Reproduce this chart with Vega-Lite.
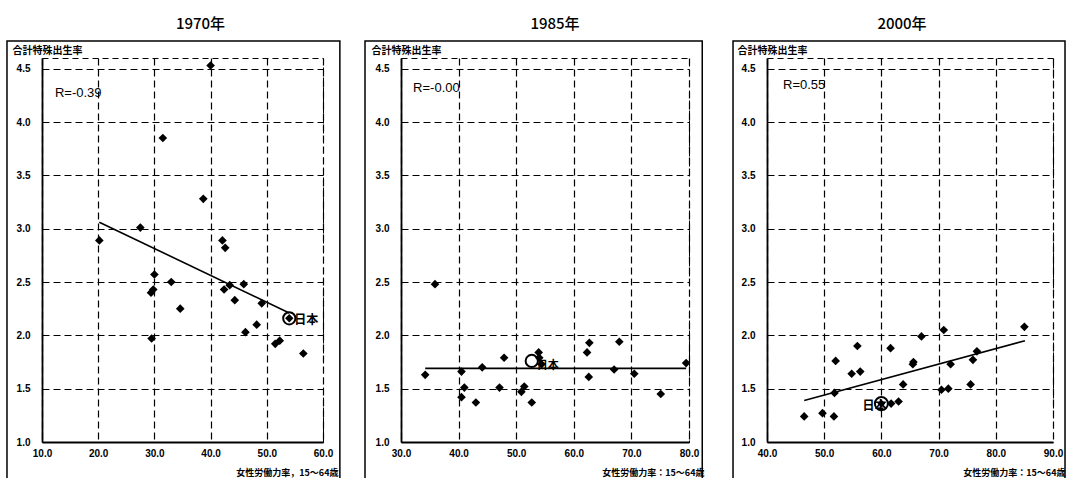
{
  "$schema": "https://vega.github.io/schema/vega-lite/v6.json",
  "padding": {"left": 5, "top": 16, "right": 0, "bottom": 0},
  "bounds": "flush",
  "spacing": 78,
  "datasets": {
    "d": [
      {"year": 1970, "kind": "country", "x": 40.0, "y": 4.53},
      {"year": 1970, "kind": "country", "x": 31.5, "y": 3.85},
      {"year": 1970, "kind": "country", "x": 38.7, "y": 3.28},
      {"year": 1970, "kind": "country", "x": 27.5, "y": 3.01},
      {"year": 1970, "kind": "country", "x": 20.2, "y": 2.89},
      {"year": 1970, "kind": "country", "x": 42.1, "y": 2.89},
      {"year": 1970, "kind": "country", "x": 42.6, "y": 2.82},
      {"year": 1970, "kind": "country", "x": 30.0, "y": 2.57},
      {"year": 1970, "kind": "country", "x": 29.8, "y": 2.43},
      {"year": 1970, "kind": "country", "x": 29.4, "y": 2.40},
      {"year": 1970, "kind": "country", "x": 33.0, "y": 2.50},
      {"year": 1970, "kind": "country", "x": 34.6, "y": 2.25},
      {"year": 1970, "kind": "country", "x": 29.5, "y": 1.97},
      {"year": 1970, "kind": "country", "x": 42.4, "y": 2.43},
      {"year": 1970, "kind": "country", "x": 43.4, "y": 2.47},
      {"year": 1970, "kind": "country", "x": 45.9, "y": 2.48},
      {"year": 1970, "kind": "country", "x": 44.3, "y": 2.33},
      {"year": 1970, "kind": "country", "x": 49.1, "y": 2.30},
      {"year": 1970, "kind": "country", "x": 46.2, "y": 2.03},
      {"year": 1970, "kind": "country", "x": 48.2, "y": 2.10},
      {"year": 1970, "kind": "country", "x": 51.5, "y": 1.92},
      {"year": 1970, "kind": "country", "x": 52.3, "y": 1.95},
      {"year": 1970, "kind": "country", "x": 56.5, "y": 1.83},
      {"year": 1970, "kind": "japan", "x": 54.0, "y": 2.16, "label": "日本"},
      {"year": 1970, "kind": "fit", "x": 20.2, "y": 3.06},
      {"year": 1970, "kind": "fit", "x": 54.0, "y": 2.21},
      {"year": 1970, "kind": "r", "x": 12.3, "y": 4.27, "label": "R=-0.39"},

      {"year": 1985, "kind": "country", "x": 35.9, "y": 2.48},
      {"year": 1985, "kind": "country", "x": 34.2, "y": 1.63},
      {"year": 1985, "kind": "country", "x": 40.5, "y": 1.66},
      {"year": 1985, "kind": "country", "x": 44.1, "y": 1.70},
      {"year": 1985, "kind": "country", "x": 41.0, "y": 1.51},
      {"year": 1985, "kind": "country", "x": 40.5, "y": 1.42},
      {"year": 1985, "kind": "country", "x": 43.0, "y": 1.37},
      {"year": 1985, "kind": "country", "x": 47.9, "y": 1.79},
      {"year": 1985, "kind": "country", "x": 47.1, "y": 1.51},
      {"year": 1985, "kind": "country", "x": 50.9, "y": 1.47},
      {"year": 1985, "kind": "country", "x": 51.4, "y": 1.52},
      {"year": 1985, "kind": "country", "x": 52.7, "y": 1.37},
      {"year": 1985, "kind": "country", "x": 53.9, "y": 1.84},
      {"year": 1985, "kind": "country", "x": 54.0, "y": 1.79},
      {"year": 1985, "kind": "country", "x": 54.4, "y": 1.73},
      {"year": 1985, "kind": "country", "x": 62.3, "y": 1.84},
      {"year": 1985, "kind": "country", "x": 62.7, "y": 1.93},
      {"year": 1985, "kind": "country", "x": 62.6, "y": 1.61},
      {"year": 1985, "kind": "country", "x": 67.0, "y": 1.68},
      {"year": 1985, "kind": "country", "x": 67.9, "y": 1.94},
      {"year": 1985, "kind": "country", "x": 70.5, "y": 1.64},
      {"year": 1985, "kind": "country", "x": 75.1, "y": 1.45},
      {"year": 1985, "kind": "country", "x": 79.5, "y": 1.74},
      {"year": 1985, "kind": "japan", "x": 52.7, "y": 1.76, "label": "日本"},
      {"year": 1985, "kind": "fit", "x": 34.2, "y": 1.69},
      {"year": 1985, "kind": "fit", "x": 79.5, "y": 1.69},
      {"year": 1985, "kind": "r", "x": 32.1, "y": 4.32, "label": "R=-0.00"},

      {"year": 2000, "kind": "country", "x": 46.5, "y": 1.24},
      {"year": 2000, "kind": "country", "x": 49.7, "y": 1.27},
      {"year": 2000, "kind": "country", "x": 51.7, "y": 1.24},
      {"year": 2000, "kind": "country", "x": 51.8, "y": 1.46},
      {"year": 2000, "kind": "country", "x": 52.0, "y": 1.76},
      {"year": 2000, "kind": "country", "x": 54.8, "y": 1.64},
      {"year": 2000, "kind": "country", "x": 55.8, "y": 1.90},
      {"year": 2000, "kind": "country", "x": 56.3, "y": 1.66},
      {"year": 2000, "kind": "country", "x": 61.6, "y": 1.88},
      {"year": 2000, "kind": "country", "x": 61.7, "y": 1.36},
      {"year": 2000, "kind": "country", "x": 63.0, "y": 1.38},
      {"year": 2000, "kind": "country", "x": 63.8, "y": 1.54},
      {"year": 2000, "kind": "country", "x": 65.5, "y": 1.73},
      {"year": 2000, "kind": "country", "x": 65.6, "y": 1.75},
      {"year": 2000, "kind": "country", "x": 67.0, "y": 1.99},
      {"year": 2000, "kind": "country", "x": 70.5, "y": 1.49},
      {"year": 2000, "kind": "country", "x": 70.9, "y": 2.05},
      {"year": 2000, "kind": "country", "x": 71.7, "y": 1.50},
      {"year": 2000, "kind": "country", "x": 72.1, "y": 1.73},
      {"year": 2000, "kind": "country", "x": 75.6, "y": 1.54},
      {"year": 2000, "kind": "country", "x": 76.0, "y": 1.77},
      {"year": 2000, "kind": "country", "x": 76.7, "y": 1.85},
      {"year": 2000, "kind": "country", "x": 85.0, "y": 2.08},
      {"year": 2000, "kind": "japan", "x": 60.0, "y": 1.36, "label": "日本"},
      {"year": 2000, "kind": "fit", "x": 46.5, "y": 1.39},
      {"year": 2000, "kind": "fit", "x": 85.1, "y": 1.95},
      {"year": 2000, "kind": "r", "x": 42.8, "y": 4.35, "label": "R=0.55"}
    ]
  },
  "hconcat": [
    {
      "width": 281,
      "height": 384,
      "title": {"text": "1970年", "dx": 18},
      "layer": [
        {
          "data": {"values": [{"f": 1}]},
          "mark": {"type": "rect", "filled": false, "stroke": "black", "strokeWidth": 1.5},
          "encoding": {
            "x": {"datum": 3.77, "type": "quantitative"},
            "x2": {"datum": 63.0},
            "y": {"datum": 4.76, "type": "quantitative"},
            "y2": {"datum": 0.5}
          }
        },
        {
          "data": {"name": "d"},
          "transform": [{"filter": "datum.year == 1970 && datum.kind == 'country'"}],
          "mark": {"type": "point", "shape": "diamond", "filled": true, "color": "black", "size": 75, "opacity": 1},
          "encoding": {
            "x": {"field": "x", "type": "quantitative", "scale": {"domain": [10, 60], "nice": false, "zero": false},
              "axis": {"values": [10, 20, 30, 40, 50, 60], "format": ".1f", "labelPadding": 6, "labelFlush": false,
                "title": "女性労働力率，15～64歳", "titleAlign": "right", "titleBaseline": "middle", "titleX": 296, "titleY": 30, "titleFontSize": 9}},
            "y": {"field": "y", "type": "quantitative", "scale": {"domain": [1, 4.6], "nice": false, "zero": false},
              "axis": {"values": [1, 1.5, 2, 2.5, 3, 3.5, 4, 4.5], "format": ".1f", "labelPadding": 12,
                "title": "合計特殊出生率", "titleAngle": 0, "titleAlign": "left", "titleBaseline": "alphabetic", "titleX": -30, "titleY": -5}}
          }
        },
        {
          "data": {"name": "d"},
          "transform": [{"filter": "datum.year == 1970 && datum.kind == 'fit'"}],
          "mark": {"type": "line", "color": "black", "strokeWidth": 1.6},
          "encoding": {"x": {"field": "x", "type": "quantitative"}, "y": {"field": "y", "type": "quantitative"}}
        },
        {
          "data": {"name": "d"},
          "transform": [{"filter": "datum.year == 1970 && datum.kind == 'japan'"}],
          "layer": [
            {"mark": {"type": "point", "shape": "diamond", "filled": true, "color": "black", "size": 70, "opacity": 1}},
            {"mark": {"type": "point", "shape": "circle", "filled": false, "stroke": "black", "strokeWidth": 2, "size": 150, "opacity": 1}},
            {"mark": {"type": "text", "align": "left", "baseline": "middle", "dx": 5, "dy": 2, "font": "Noto Sans CJK JP", "fontWeight": "bold", "fontSize": 12, "color": "#000000"},
              "encoding": {"text": {"field": "label"}}}
          ],
          "encoding": {"x": {"field": "x", "type": "quantitative"}, "y": {"field": "y", "type": "quantitative"}}
        },
        {
          "data": {"name": "d"},
          "transform": [{"filter": "datum.year == 1970 && datum.kind == 'r'"}],
          "mark": {"type": "text", "align": "left", "baseline": "middle", "font": "Liberation Sans", "fontSize": 13, "color": "black"},
          "encoding": {"x": {"field": "x", "type": "quantitative"}, "y": {"field": "y", "type": "quantitative"}, "text": {"field": "label"}}
        }
      ]
    },
    {
      "width": 288,
      "height": 384,
      "title": {"text": "1985年", "dx": 10},
      "layer": [
        {
          "data": {"values": [{"f": 1}]},
          "mark": {"type": "rect", "filled": false, "stroke": "black", "strokeWidth": 1.5},
          "encoding": {
            "x": {"datum": 23.75, "type": "quantitative"},
            "x2": {"datum": 82.3},
            "y": {"datum": 4.76, "type": "quantitative"},
            "y2": {"datum": 0.5}
          }
        },
        {
          "data": {"name": "d"},
          "transform": [{"filter": "datum.year == 1985 && datum.kind == 'country'"}],
          "mark": {"type": "point", "shape": "diamond", "filled": true, "color": "black", "size": 75, "opacity": 1},
          "encoding": {
            "x": {"field": "x", "type": "quantitative", "scale": {"domain": [30, 80], "nice": false, "zero": false},
              "axis": {"values": [30, 40, 50, 60, 70, 80], "format": ".1f", "labelPadding": 6, "labelFlush": false,
                "title": "女性労働力率：15～64歳", "titleAlign": "right", "titleBaseline": "middle", "titleX": 303, "titleY": 30, "titleFontSize": 9}},
            "y": {"field": "y", "type": "quantitative", "scale": {"domain": [1, 4.6], "nice": false, "zero": false},
              "axis": {"values": [1, 1.5, 2, 2.5, 3, 3.5, 4, 4.5], "format": ".1f", "labelPadding": 12,
                "title": "合計特殊出生率", "titleAngle": 0, "titleAlign": "left", "titleBaseline": "alphabetic", "titleX": -30, "titleY": -5}}
          }
        },
        {
          "data": {"name": "d"},
          "transform": [{"filter": "datum.year == 1985 && datum.kind == 'fit'"}],
          "mark": {"type": "line", "color": "black", "strokeWidth": 1.6},
          "encoding": {"x": {"field": "x", "type": "quantitative"}, "y": {"field": "y", "type": "quantitative"}}
        },
        {
          "data": {"name": "d"},
          "transform": [{"filter": "datum.year == 1985 && datum.kind == 'japan'"}],
          "layer": [
            {"mark": {"type": "point", "shape": "circle", "filled": false, "stroke": "black", "strokeWidth": 2, "size": 150, "opacity": 1}},
            {"mark": {"type": "text", "align": "left", "baseline": "middle", "dx": 5, "dy": 5, "font": "Noto Sans CJK JP", "fontWeight": "bold", "fontSize": 11, "color": "#000000"},
              "encoding": {"text": {"field": "label"}}}
          ],
          "encoding": {"x": {"field": "x", "type": "quantitative"}, "y": {"field": "y", "type": "quantitative"}}
        },
        {
          "data": {"name": "d"},
          "transform": [{"filter": "datum.year == 1985 && datum.kind == 'r'"}],
          "mark": {"type": "text", "align": "left", "baseline": "middle", "font": "Liberation Sans", "fontSize": 13, "color": "black"},
          "encoding": {"x": {"field": "x", "type": "quantitative"}, "y": {"field": "y", "type": "quantitative"}, "text": {"field": "label"}}
        }
      ]
    },
    {
      "width": 286,
      "height": 384,
      "title": {"text": "2000年", "dx": -8},
      "layer": [
        {
          "data": {"values": [{"f": 1}]},
          "mark": {"type": "rect", "filled": false, "stroke": "black", "strokeWidth": 1.5},
          "encoding": {
            "x": {"datum": 34.06, "type": "quantitative"},
            "x2": {"datum": 92.1},
            "y": {"datum": 4.76, "type": "quantitative"},
            "y2": {"datum": 0.5}
          }
        },
        {
          "data": {"name": "d"},
          "transform": [{"filter": "datum.year == 2000 && datum.kind == 'country'"}],
          "mark": {"type": "point", "shape": "diamond", "filled": true, "color": "black", "size": 75, "opacity": 1},
          "encoding": {
            "x": {"field": "x", "type": "quantitative", "scale": {"domain": [40, 90], "nice": false, "zero": false},
              "axis": {"values": [40, 50, 60, 70, 80, 90], "format": ".1f", "labelPadding": 6, "labelFlush": false,
                "title": "女性労働力率：15～64歳", "titleAlign": "right", "titleBaseline": "middle", "titleX": 298, "titleY": 30, "titleFontSize": 9}},
            "y": {"field": "y", "type": "quantitative", "scale": {"domain": [1, 4.6], "nice": false, "zero": false},
              "axis": {"values": [1, 1.5, 2, 2.5, 3, 3.5, 4, 4.5], "format": ".1f", "labelPadding": 12,
                "title": "合計特殊出生率", "titleAngle": 0, "titleAlign": "left", "titleBaseline": "alphabetic", "titleX": -30, "titleY": -5}}
          }
        },
        {
          "data": {"name": "d"},
          "transform": [{"filter": "datum.year == 2000 && datum.kind == 'fit'"}],
          "mark": {"type": "line", "color": "black", "strokeWidth": 1.6},
          "encoding": {"x": {"field": "x", "type": "quantitative"}, "y": {"field": "y", "type": "quantitative"}}
        },
        {
          "data": {"name": "d"},
          "transform": [{"filter": "datum.year == 2000 && datum.kind == 'japan'"}],
          "layer": [
            {"mark": {"type": "point", "shape": "diamond", "filled": true, "color": "black", "size": 60, "opacity": 1}},
            {"mark": {"type": "point", "shape": "circle", "filled": false, "stroke": "black", "strokeWidth": 2, "size": 170, "opacity": 1}},
            {"mark": {"type": "text", "align": "right", "baseline": "middle", "dx": 5, "dy": 2, "font": "Noto Sans CJK JP", "fontWeight": "bold", "fontSize": 12, "color": "#000000"},
              "encoding": {"text": {"field": "label"}}}
          ],
          "encoding": {"x": {"field": "x", "type": "quantitative"}, "y": {"field": "y", "type": "quantitative"}}
        },
        {
          "data": {"name": "d"},
          "transform": [{"filter": "datum.year == 2000 && datum.kind == 'r'"}],
          "mark": {"type": "text", "align": "left", "baseline": "middle", "font": "Liberation Sans", "fontSize": 13, "color": "black"},
          "encoding": {"x": {"field": "x", "type": "quantitative"}, "y": {"field": "y", "type": "quantitative"}, "text": {"field": "label"}}
        }
      ]
    }
  ],
  "config": {
    "background": "white",
    "view": {"stroke": "black", "strokeDash": [6, 4], "strokeWidth": 1},
    "axis": {
      "grid": true, "gridColor": "black", "gridDash": [7, 4], "gridWidth": 1.2, "gridOpacity": 1,
      "domain": true, "domainColor": "black", "domainWidth": 1.8,
      "ticks": false,
      "labelFont": "Liberation Sans", "labelFontWeight": "bold", "labelFontSize": 10, "labelColor": "black",
      "titleFont": "Noto Sans CJK JP", "titleFontWeight": "bold", "titleFontSize": 10, "titleColor": "black"
    },
    "title": {"font": "Noto Sans CJK JP", "fontSize": 15, "fontWeight": 500, "anchor": "middle", "frame": "group", "offset": 8, "color": "black"}
  }
}
